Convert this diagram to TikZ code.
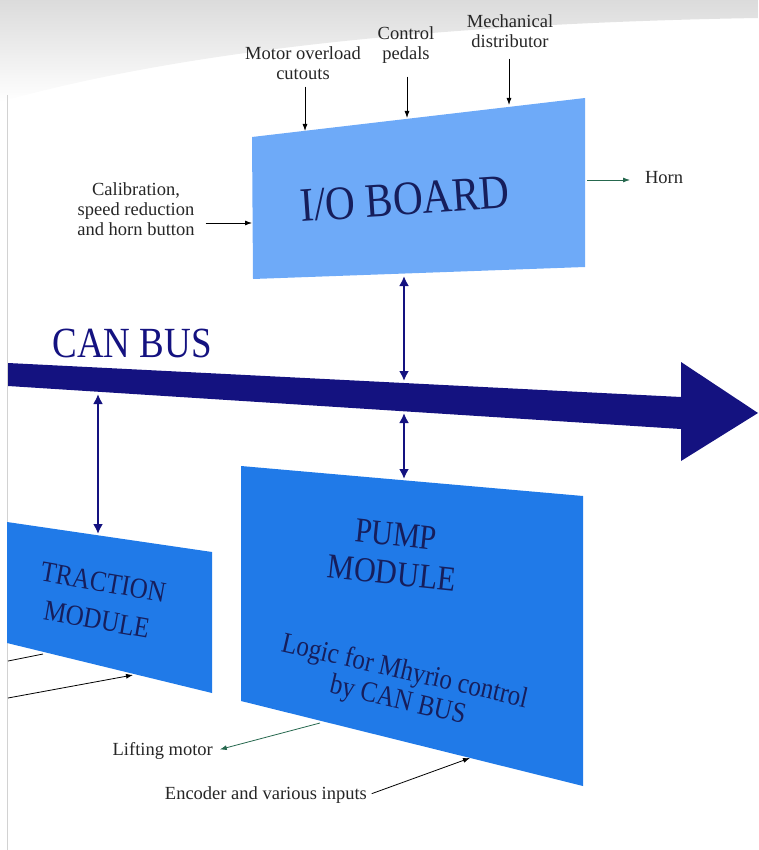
\documentclass[tikz,border=0pt]{standalone}
\usepackage{fontspec}
\setmainfont{Liberation Serif}
\newfontfamily\tallserif[FakeStretch=0.86]{Liberation Serif}
\usetikzlibrary{arrows.meta}

\definecolor{busnavy}{RGB}{20,18,128}
\definecolor{ioblue}{RGB}{110,170,248}
\definecolor{modblue}{RGB}{32,122,232}
\definecolor{boxink}{RGB}{22,30,92}
\definecolor{outgreen}{RGB}{38,104,78}

\tikzset{every picture/.style={line width=0.75pt}}
\tikzset{
  lbl/.style={inner sep=0.75pt, align=center, text=black!85, font=\fontsize{18.5}{20}\selectfont},
  inarrow/.style={-{Latex[length=7pt,width=5pt]}, line width=0.8pt},
  outarrow/.style={-{Latex[length=7pt,width=5pt]}, draw=outgreen, line width=0.8pt},
  linkarrow/.style={{Latex[length=10pt,width=10pt]}-{Latex[length=10pt,width=10pt]}, draw=busnavy, line width=2.4pt},
  boxtext/.style={inner sep=0pt, align=center, text=boxink}
}

\begin{document}
\begin{tikzpicture}[x=1pt,y=1pt,yscale=-1,xscale=1]
    \useasboundingbox (0,0) rectangle (758,850);
    %Shape: scan shadow at the top
    \shade [top color=gray!28, bottom color=white] (0,0) -- (758,0) -- (758,18) .. controls (520,22) and (220,40) .. (0,102) -- cycle ;
    \draw [gray!35, line width=0.6pt] (7,95) -- (7,850) ;
    %Shape: I/O board
    \fill [ioblue] (252,137) -- (585,98) -- (585,267) -- (253,279) -- cycle ;
    %Shape: CAN bus arrow
    \fill [busnavy] (8,363) -- (681,397) -- (681,362) -- (758,413) -- (681,461) -- (681,429) -- (8,386) -- cycle ;
    %Shape: traction module
    \fill [modblue] (7,522) -- (212,552) -- (212,693) -- (7,643) -- cycle ;
    %Shape: pump module
    \fill [modblue] (241,466) -- (583,496) -- (583,786) -- (241,701) -- cycle ;

    % points on the edges
    \coordinate (io-m) at (305,131) ;
    \coordinate (io-c) at (407,118) ;
    \coordinate (io-d) at (509,105) ;
    \coordinate (io-cal) at (252,223) ;
    \coordinate (io-horn) at (587,180) ;
    \coordinate (io-bot) at (404,276) ;
    \coordinate (bus-io) at (404,381) ;
    \coordinate (bus-pump) at (404,413) ;
    \coordinate (bus-trac) at (98,394) ;
    \coordinate (pump-top) at (404,479) ;
    \coordinate (trac-top) at (98,534) ;
    \coordinate (pump-lift) at (320,723) ;
    \coordinate (pump-enc) at (470,758) ;
    \coordinate (trac-out) at (43,654) ;
    \coordinate (trac-in) at (133,675) ;
    \coordinate (edge-a) at (8,661) ;
    \coordinate (edge-b) at (8,698) ;

    % Text Node
    \node (ioboard) [boxtext, rotate=4, font=\tallserif\fontsize{48}{50}\selectfont] at (405,199) {I/O BOARD};
    % Text Node
    \node (canbus) [inner sep=0.75pt, text=busnavy, font=\tallserif\fontsize{43}{45}\selectfont] at (132,343) {CAN BUS};
    % Text Node
    \node (traction) [boxtext, rotate=-10, font=\tallserif\fontsize{29}{38}\selectfont] at (100,601) {TRACTION\\MODULE};
    % Text Node
    \node (pump) [boxtext, rotate=-6, font=\tallserif\fontsize{35}{39}\selectfont] at (394,554) {PUMP\\MODULE};
    % Text Node
    \node (logic) [boxtext, rotate=-13, font=\tallserif\fontsize{29}{30}\selectfont] at (401,687) {Logic for Mhyrio control\\by CAN BUS};

    % Text Node
    \node (motor) [lbl] at (303,63) {Motor overload\\cutouts};
    % Text Node
    \node (pedals) [lbl] at (406,45) {Control\\pedals};
    % Text Node
    \node (mech) [lbl] at (510,31) {Mechanical\\distributor};
    % Text Node
    \node (calib) [lbl] at (136,209) {Calibration,\\speed reduction\\and horn button};
    % Text Node
    \node (horn) [lbl, anchor=west] at (644,178) {Horn};
    % Text Node
    \node (lifting) [lbl, anchor=east] at (214,751) {Lifting motor};
    % Text Node
    \node (encoder) [lbl, anchor=east] at (368,795) {Encoder and various inputs};

    % inputs and outputs
    \draw [inarrow, shorten <=6pt] (motor.south -| io-m) -- (io-m) ;
    \draw [inarrow, shorten <=12pt] (pedals.south -| io-c) -- (io-c) ;
    \draw [inarrow, shorten <=10pt] (mech.south -| io-d) -- (io-d) ;
    \draw [inarrow, shorten <=10pt] (calib.east |- io-cal) -- (io-cal) ;
    \draw [outarrow, shorten >=14pt] (io-horn) -- (horn.west |- io-horn) ;
    \draw [outarrow, shorten >=6pt] (pump-lift) -- (lifting.east) ;
    \draw [inarrow, shorten <=4pt] (encoder.east) -- (pump-enc) ;
    \draw [line width=0.8pt] (trac-out) -- (edge-a) ;
    \draw [inarrow] (edge-b) -- (trac-in) ;

    % links to the bus
    \draw [linkarrow] (io-bot) -- (bus-io) ;
    \draw [linkarrow] (bus-pump) -- (pump-top) ;
    \draw [linkarrow] (bus-trac) -- (trac-top) ;
\end{tikzpicture}
\end{document}
